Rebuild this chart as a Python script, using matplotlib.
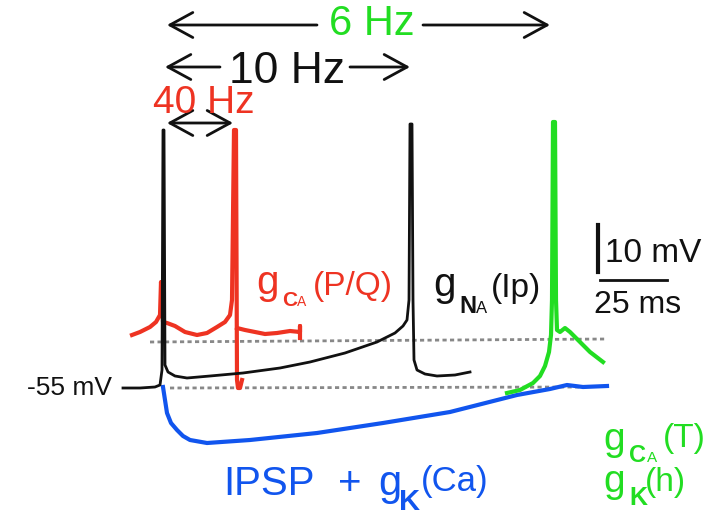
import matplotlib
matplotlib.use('Agg')
from matplotlib import pyplot as plt

plt.rcParams['font.family'] = ['Liberation Sans', 'DejaVu Sans']

# colours
RED = '#ee3322'
GREEN = '#22dd22'
BLUE = '#1155ee'
BLACK = '#111111'

# traces (x px, y px)
black_x = [123, 140, 155, 160, 162, 163, 164, 165, 168, 175, 187, 210, 243, 280, 310, 345, 377, 395,
           403, 407, 409, 410, 412, 413, 414, 417, 425, 437, 455, 470]
black_y = [388, 388, 387, 385, 370, 130, 130, 365, 372, 376, 378, 376, 373, 368, 362, 353, 342, 333,
           326, 320, 300, 124, 124, 300, 360, 370, 374, 376, 375, 372]

red_x = [132, 140, 150, 156, 160, 161, 162, 163, 167, 175, 185, 197, 207, 217, 225, 230, 232, 234,
         236, 237, 238, 240, 242]
red_y = [335, 332, 327, 322, 315, 282, 300, 322, 323, 326, 332, 335, 333, 327, 322, 315, 300, 130,
         130, 380, 388, 388, 380]
red_tail_x = [237, 245, 255, 265, 277, 290, 300, 300, 300]
red_tail_y = [328, 330, 332, 334, 333, 331, 332, 326, 338]

blue_x = [163, 165, 167, 171, 177, 183, 190, 207, 250, 317, 383, 450, 517, 550, 567, 583, 607]
blue_y = [387, 400, 413, 423, 430, 436, 440, 443, 440, 433, 423, 412, 395, 389, 385, 387, 386]

green_x = [507, 520, 533, 540, 545, 549, 551, 552, 553, 555, 556, 557, 560, 565, 570, 580, 590, 603]
green_y = [393, 390, 383, 376, 366, 352, 335, 300, 122, 122, 300, 330, 332, 328, 332, 342, 352, 362]

dot_hi_x = [150, 607]
dot_hi_y = [342, 339]
dot_lo_x = [170, 580]
dot_lo_y = [388, 387]

fig = plt.figure(figsize=(7.08, 5.23), dpi=100)
ax = fig.add_axes([0, 0, 1, 1])
ax.set_xlim(0, 708)
ax.set_ylim(523, 0)
ax.axis('off')

# dotted reference levels
ax.plot(dot_hi_x, dot_hi_y, color='#888888', lw=2, ls=(0, (1.5, 1.2)), zorder=1)
ax.plot(dot_lo_x, dot_lo_y, color='#888888', lw=2, ls=(0, (1.5, 1.2)), zorder=1)

# traces
ax.plot(red_x, red_y, color=RED, lw=3, solid_joinstyle='round', zorder=2)
ax.plot(red_tail_x, red_tail_y, color=RED, lw=3, solid_joinstyle='round', zorder=2)
ax.plot(blue_x, blue_y, color=BLUE, lw=3, solid_joinstyle='round', zorder=3)
ax.plot(green_x, green_y, color=GREEN, lw=3, solid_joinstyle='round', zorder=3)
ax.plot(black_x, black_y, color=BLACK, lw=2, solid_joinstyle='round', zorder=4)

# frequency arrows
arr = dict(arrowstyle='->,head_length=0.55,head_width=0.3', color=BLACK, lw=2, mutation_scale=30,
           shrinkA=0, shrinkB=0)
ax.annotate('', xy=(167, 25), xytext=(317, 25), arrowprops=arr)
ax.annotate('', xy=(550, 25), xytext=(423, 25), arrowprops=arr)
ax.annotate('', xy=(165, 67), xytext=(220, 67), arrowprops=arr)
ax.annotate('', xy=(410, 67), xytext=(350, 67), arrowprops=arr)
arr2 = dict(arr, arrowstyle='<->,head_length=0.55,head_width=0.3')
ax.annotate('', xy=(233, 123), xytext=(167, 123), arrowprops=arr2)

ax.text(372, 35, '6 Hz', color=GREEN, fontsize=30, ha='center', va='baseline')
ax.text(287, 83, '10 Hz', color=BLACK, fontsize=32, ha='center', va='baseline')
ax.text(204, 113, '40 Hz', color=RED, fontsize=28, ha='center', va='baseline')

# scale bar
ax.plot([598, 598], [225, 272], color=BLACK, lw=3)
ax.plot([600, 667], [280, 280], color=BLACK, lw=2)
ax.text(605, 262, '10 mV', color=BLACK, fontsize=24, va='baseline')
ax.text(594, 313, '25 ms', color=BLACK, fontsize=23, va='baseline')

ax.text(112, 395, '-55 mV', color=BLACK, fontsize=19, ha='right', va='baseline')


def label(parts, color):
    for x, y, s, size, bold in parts:
        ax.text(x, y, s, color=color, fontsize=size, va='baseline', ha='left',
                fontweight='bold' if bold else 'normal')


label([(256, 294, 'g', 29, False), (282, 306, 'C', 15, True), (297, 306, 'A', 10, False),
       (313, 295, '(P/Q)', 24, False)], RED)
label([(433, 296, 'g', 29, False), (459, 313, 'N', 17, True), (476, 313, 'A', 12, False),
       (491, 297, '(Ip)', 24, False)], BLACK)
label([(603, 450, 'g', 28, False), (629, 462, 'C', 17, True), (647, 462, 'A', 11, False),
       (663, 447, '(T)', 24, False)], GREEN)
label([(603, 492, 'g', 28, False), (629, 505, 'K', 18, True), (645, 491, '(h)', 24, False)], GREEN)
label([(223, 495, 'IPSP', 29, False), (338, 495, '+', 29, False), (378, 495, 'g', 30, False),
       (399, 510, 'K', 21, True), (421, 491, '(Ca)', 25, False)], BLUE)

fig.savefig('out.png', dpi=100)
